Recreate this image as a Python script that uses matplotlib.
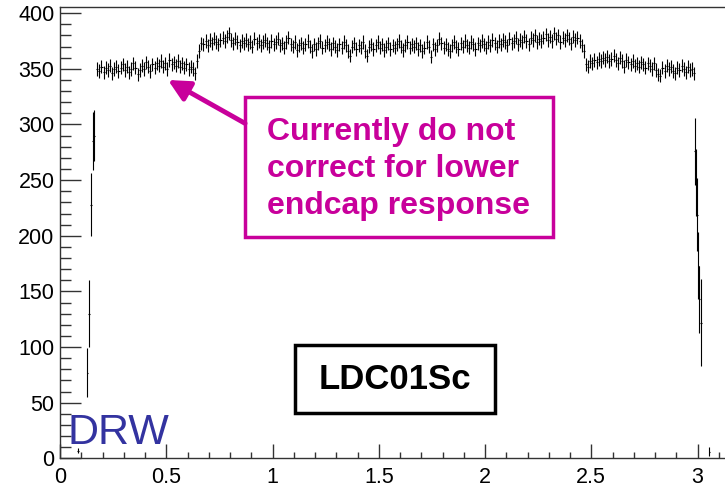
import numpy as np
import matplotlib
matplotlib.use("Agg")
import matplotlib.pyplot as plt
from matplotlib.patches import Rectangle
from matplotlib.ticker import MultipleLocator

plt.rcParams['font.family'] = ['Liberation Sans', 'DejaVu Sans']

# bins du plateau, largeur 0.01, centres a partir de 0.175
bin_start = 0.175
bin_width = 0.01
plateau = [
    # 0.175 - 0.665
    350, 348, 352, 347, 351, 349, 353, 346, 350, 352,
    348, 351, 354, 349, 352, 347, 350, 355, 351, 345,
    349, 353, 350, 356, 352, 348, 354, 351, 355, 353,
    357, 352, 355, 350, 358, 354, 356, 353, 357, 352,
    355, 351, 354, 350, 352, 350, 346, 357, 366, 373,
    # 0.675 - 2.465
    372, 375, 371, 376, 373, 377, 374, 372, 376, 378,
    375, 379, 382, 376, 373, 377, 374, 371, 375, 373,
    376, 372, 374, 370, 377, 373, 375, 371, 374, 376,
    373, 370, 375, 372, 374, 377, 371, 373, 369, 374,
    378, 372, 370, 374, 367, 371, 373, 369, 372, 375,
    370, 366, 372, 368, 373, 375, 369, 371, 374, 372,
    368, 373, 370, 367, 372, 369, 374, 371, 366, 362,
    370, 373, 368, 371, 369, 374, 366, 362, 370, 372,
    368, 371, 374, 369, 372, 367, 370, 373, 368, 371,
    369, 372, 375, 370, 367, 371, 374, 369, 372, 370,
    373, 368, 371, 366, 369, 374, 370, 361, 372, 368,
    371, 377, 373, 369, 372, 368, 366, 371, 374, 370,
    368, 373, 370, 375, 371, 369, 374, 372, 368, 373,
    371, 375, 372, 369, 374, 371, 376, 373, 370, 375,
    372, 376, 374, 371, 377, 373, 375, 378, 372, 376,
    374, 379, 375, 372, 378, 376, 380, 374, 377, 375,
    378, 381, 376, 379, 375, 382, 377, 380, 374, 378,
    376, 380, 377, 373, 379, 376, 378, 375, 371, 366,
    # 2.475 - 2.985
    354, 352, 357, 355, 358, 356, 359, 357, 360, 358,
    361, 357, 359, 362, 358, 355, 360, 357, 352, 358,
    356, 354, 357, 353, 355, 352, 356, 354, 351, 355,
    353, 350, 355, 349, 345, 344, 351, 348, 353, 350,
    352, 348, 346, 351, 349, 353, 350, 347, 352, 349,
    350, 346,
]
plateau_err = 6

# bins des bords (montee et descente)
edge_x = [0.085, 0.129, 0.137, 0.146, 0.153, 0.162,
          2.988, 2.993, 2.996, 3.004, 3.009, 3.015, 3.056]
edge_y = [7, 77, 130, 228, 285, 290,
          276, 248, 219, 173, 143, 122, 6]
edge_err = [2.5, 22, 30, 28, 26, 23,
            30, 30, 33, 30, 30, 39, 4]

x_plat = bin_start + bin_width * np.arange(len(plateau))

fig = plt.figure(figsize=(7.25, 4.88), dpi=100)
ax = fig.add_axes([60 / 725, 1 - 458.3 / 488, 667.6 / 725, 451.3 / 488])

ax.errorbar(x_plat, plateau, yerr=plateau_err, xerr=bin_width / 2,
            fmt='none', ecolor='black', elinewidth=0.8)
ax.errorbar(edge_x, edge_y, yerr=edge_err, xerr=0.004,
            fmt='none', ecolor='black', elinewidth=0.8)

ax.set_xlim(0, np.pi)
ax.set_ylim(0, 405.6)

ax.xaxis.set_major_locator(MultipleLocator(0.5))
ax.xaxis.set_minor_locator(MultipleLocator(0.1))
ax.yaxis.set_major_locator(MultipleLocator(50))
ax.yaxis.set_minor_locator(MultipleLocator(10))
ax.set_xticks([0, 0.5, 1, 1.5, 2, 2.5, 3])
ax.set_xticklabels(['0', '0.5', '1', '1.5', '2', '2.5', '3'])

axcol = '#333333'
ax.tick_params(axis='y', which='major', direction='in', length=15, width=1,
               color=axcol, labelsize=15.5, pad=4, right=False)
ax.tick_params(axis='y', which='minor', direction='in', length=8, width=1,
               color=axcol, right=False)
ax.tick_params(axis='x', which='major', direction='in', length=10, width=1,
               color=axcol, labelsize=15.5, pad=6, top=False)
ax.tick_params(axis='x', which='minor', direction='in', length=4.5, width=1,
               color=axcol, top=False)
for s in ax.spines.values():
    s.set_color(axcol)
    s.set_linewidth(1)

magenta = '#C8009B'

# fleche vers le plateau bas
ax.annotate('', xy=(0.508, 340), xytext=(0.871, 301),
            arrowprops=dict(arrowstyle='-|>', color=magenta, lw=3.5,
                            mutation_scale=32, shrinkA=0, shrinkB=0))

ax.add_patch(Rectangle((0.871, 198.9), 2.32 - 0.871, 324.8 - 198.9,
                       fill=False, edgecolor=magenta, lw=2.5))
ax.text(0.974, 260, 'Currently do not\ncorrect for lower\nendcap response',
        color=magenta, fontsize=23, fontweight='bold', ha='left', va='center',
        linespacing=1.3)

ax.add_patch(Rectangle((1.106, 40.7), 2.047 - 1.106, 101.8 - 40.7,
                       fill=False, edgecolor='black', lw=2.5))
ax.text(1.577, 71, 'LDC01Sc', color='black', fontsize=25, fontweight='bold',
        ha='center', va='center')

ax.text(0.033, 12.9, 'DRW', color='#3333A0', fontsize=31, ha='left',
        va='baseline')

fig.savefig('out.png', dpi=100)
